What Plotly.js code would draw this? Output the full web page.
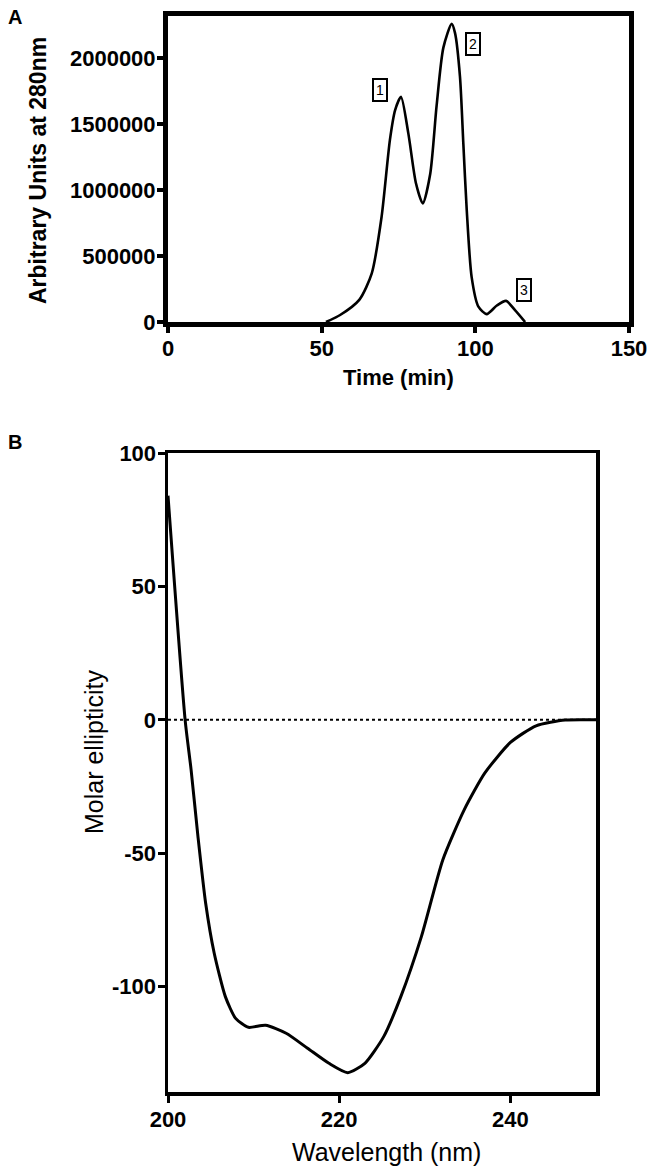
<!DOCTYPE html>
<html>
<head>
<meta charset="utf-8">
<script src="https://cdn.plot.ly/plotly-3.0.1.min.js"></script>
<style>
  html, body { margin: 0; padding: 0; background: #fff; }
  #chart { width: 660px; height: 1175px; }
</style>
</head>
<body>
<div id="chart"></div>
<script>
// ---------- Panel A: chromatogram ----------
var timeMin = [51.4, 56.0, 62.3, 66.3, 69.5, 72.2, 73.9, 75.8, 78.2, 80.7, 82.9, 85.3, 87.4, 89.6, 92.3, 93.4, 95.0, 96.1, 97.2, 98.8, 101.0, 103.7, 107.0, 110.0, 112.9, 116.2];
var absorbance = [0, 53000, 170000, 369000, 798000, 1379000, 1606000, 1707000, 1430000, 1050000, 899000, 1120000, 1640000, 2080000, 2260000, 2190000, 1860000, 1350000, 850000, 340000, 116000, 60000, 125000, 160000, 90000, 0];
var xTicksA = [0, 50, 100, 150];
var yTicksA = [0, 500000, 1000000, 1500000, 2000000];
var peakLabels = ["1", "2", "3"];
var peakLabelTime = [69.1, 99.4, 115.9];
var peakLabelValue = [1760000, 2110000, 242000];

// ---------- Panel B: CD spectrum ----------
var wavelength = [200, 202.0, 202.7, 203.5, 204.4, 205.4, 206.7, 207.9, 209.4, 211.4, 213.8, 216.3, 218.8, 221.0, 223.0, 225.2, 227.2, 229.6, 232.1, 234.6, 237.0, 240.0, 243.0, 246.4, 250];
var ellipticity = [84, 0, -18.75, -43.75, -68.75, -87.5, -103.75, -111.9, -115.25, -114.5, -117.5, -123.1, -128.75, -132.25, -128.75, -118.75, -103.75, -81.25, -52.5, -33.75, -20, -8.5, -2.25, -0.1, 0];
var zeroRefX = [200, 250];
var zeroRefY = [0, 0];
var xTicksB = [200, 220, 240];
var yTicksB = [-100, -50, 0, 50, 100];
var yTickTextB = ["-100", "-50", "0", "50", "100"];

var W = 660, H = 1175;
function px(x) { return x / W; }
function py(y) { return 1 - y / H; }

var FAM = "Liberation Sans, Arial, Helvetica, sans-serif";

var traces = [
  {
    x: timeMin, y: absorbance, type: "scatter", mode: "lines",
    line: { color: "#000", width: 2.6, shape: "spline", smoothing: 0.7 },
    xaxis: "x", yaxis: "y", hoverinfo: "skip"
  },
  {
    x: zeroRefX, y: zeroRefY, type: "scatter", mode: "lines",
    line: { color: "#000", width: 2, dash: "dot" },
    xaxis: "x2", yaxis: "y2", hoverinfo: "skip"
  },
  {
    x: wavelength, y: ellipticity, type: "scatter", mode: "lines",
    line: { color: "#000", width: 3, shape: "spline", smoothing: 0.6 },
    xaxis: "x2", yaxis: "y2", hoverinfo: "skip"
  }
];

var tickFontBold = { family: FAM, size: 22, color: "#000", weight: "bold" };

var annotations = [
  { text: "A", xref: "paper", yref: "paper", x: px(6), y: py(17), xanchor: "left", yanchor: "middle",
    showarrow: false, font: { family: FAM, size: 20, color: "#000", weight: "bold" } },
  { text: "B", xref: "paper", yref: "paper", x: px(6), y: py(442), xanchor: "left", yanchor: "middle",
    showarrow: false, font: { family: FAM, size: 20, color: "#000", weight: "bold" } },
  { text: "Arbitrary Units at 280nm", xref: "paper", yref: "paper", x: px(38), y: py(171),
    xanchor: "center", yanchor: "middle", textangle: -90, showarrow: false,
    font: { family: FAM, size: 23, color: "#000", weight: "bold" } },
  { text: "Time (min)", xref: "paper", yref: "paper", x: px(398), y: py(378),
    xanchor: "center", yanchor: "middle", showarrow: false,
    font: { family: FAM, size: 22, color: "#000", weight: "bold" } },
  { text: "Molar ellipticity", xref: "paper", yref: "paper", x: px(94), y: py(752),
    xanchor: "center", yanchor: "middle", textangle: -90, showarrow: false,
    font: { family: FAM, size: 25, color: "#000" } },
  { text: "Wavelength (nm)", xref: "paper", yref: "paper", x: px(386), y: py(1152),
    xanchor: "center", yanchor: "middle", showarrow: false,
    font: { family: FAM, size: 25, color: "#000" } }
];
for (var i = 0; i < peakLabels.length; i++) {
  annotations.push({
    text: peakLabels[i], xref: "x", yref: "y", x: peakLabelTime[i], y: peakLabelValue[i],
    xanchor: "center", yanchor: "middle", showarrow: false,
    bordercolor: "#000", borderwidth: 2, borderpad: 2, bgcolor: "#fff",
    font: { family: FAM, size: 14, color: "#000" }
  });
}

var layout = {
  width: W, height: H, autosize: false,
  margin: { l: 0, r: 0, t: 0, b: 0, pad: 0 },
  paper_bgcolor: "#fff", plot_bgcolor: "#fff",
  showlegend: false,
  font: { family: FAM, color: "#000" },
  xaxis: {
    domain: [px(168), px(629)], range: [0, 150], anchor: "y",
    tickvals: xTicksA, tickfont: tickFontBold, ticklabelstandoff: -3,
    showline: true, mirror: true, linecolor: "#000", linewidth: 5,
    ticks: "outside", ticklen: 6, tickwidth: 4, tickcolor: "#000",
    showgrid: false, zeroline: false, fixedrange: true
  },
  yaxis: {
    domain: [py(322), py(16)], range: [0, 2320000], anchor: "x",
    tickvals: yTicksA, tickformat: "d", tickfont: tickFontBold, ticklabelstandoff: -3,
    showline: true, mirror: true, linecolor: "#000", linewidth: 5,
    ticks: "outside", ticklen: 6, tickwidth: 4, tickcolor: "#000",
    showgrid: false, zeroline: false, fixedrange: true
  },
  xaxis2: {
    domain: [px(168), px(596)], range: [200, 250], anchor: "y2",
    tickvals: xTicksB, tickfont: tickFontBold, ticklabelstandoff: -2,
    showline: true, mirror: true, linecolor: "#000", linewidth: 3.5,
    ticks: "outside", ticklen: 7, tickwidth: 3, tickcolor: "#000",
    showgrid: false, zeroline: false, fixedrange: true
  },
  yaxis2: {
    domain: [py(1092), py(453)], range: [-139.5, 100], anchor: "x2",
    tickvals: yTicksB, ticktext: yTickTextB, tickfont: tickFontBold, ticklabelstandoff: -3,
    showline: true, mirror: true, linecolor: "#000", linewidth: 3.5,
    ticks: "outside", ticklen: 7, tickwidth: 3, tickcolor: "#000",
    showgrid: false, zeroline: false, fixedrange: true
  },
  annotations: annotations
};

Plotly.newPlot("chart", traces, layout, { staticPlot: true, displayModeBar: false });
</script>
</body>
</html>
